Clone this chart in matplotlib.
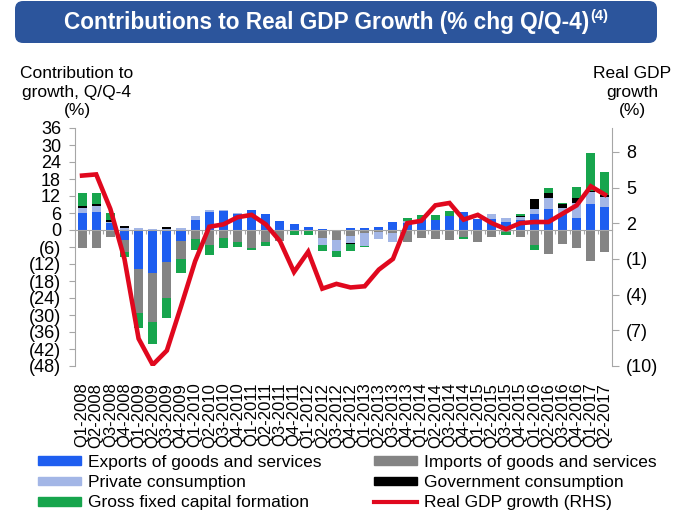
import matplotlib
matplotlib.use("Agg")
import matplotlib.pyplot as plt
import numpy as np
from matplotlib.patches import FancyBboxPatch, Patch
from matplotlib.lines import Line2D
from matplotlib.ticker import FuncFormatter

plt.rcParams['font.family'] = ['Liberation Sans', 'DejaVu Sans']

# ---------------- data ----------------
quarters = ["Q1-2008", "Q2-2008", "Q3-2008", "Q4-2008",
            "Q1-2009", "Q2-2009", "Q3-2009", "Q4-2009",
            "Q1-2010", "Q2-2010", "Q3-2010", "Q4-2010",
            "Q1-2011", "Q2-2011", "Q3-2011", "Q4-2011",
            "Q1-2012", "Q2-2012", "Q3-2012", "Q4-2012",
            "Q1-2013", "Q2-2013", "Q3-2013", "Q4-2013",
            "Q1-2014", "Q2-2014", "Q3-2014", "Q4-2014",
            "Q1-2015", "Q2-2015", "Q3-2015", "Q4-2015",
            "Q1-2016", "Q2-2016", "Q3-2016", "Q4-2016",
            "Q1-2017", "Q2-2017"]

exports = [5.9, 6.5, 2.4, -3.5, -13.8, -15.3, -11.4, -3.8,
           3.5, 6.5, 6.8, 5.5, 6.9, 5.8, 3.1, 2.0,
           1.2, 0.3, 0.0, 0.6, 0.7, 1.2, 2.9, 2.5,
           3.9, 3.6, 5.1, 6.3, 4.0, 3.8, 3.0, 3.6,
           5.5, 7.3, 5.5, 4.4, 9.3, 8.2]
imports = [-6.2, -6.3, -2.6, -4.3, -15.4, -17.0, -12.7, -6.5,
           -3.2, -5.3, -2.7, -4.4, -6.2, -4.1, -3.8, -0.4,
           -0.4, -2.9, -3.5, -2.1, -1.2, -0.6, -1.0, -4.3,
           -2.9, -3.2, -3.6, -2.4, -4.1, -2.6, -0.6, -2.6,
           -5.3, -8.5, -4.9, -6.3, -10.8, -7.9]
private_cons = [1.8, 2.0, 0.6, 0.6, 0.7, 0.2, 0.3, 0.8,
                1.4, 0.6, 0.3, 0.4, 0.0, 0.0, 0.0, 0.0,
                0.0, -2.4, -3.9, -2.4, -4.5, -2.6, -3.3, 0.8,
                0.0, 0.0, 0.0, 0.0, 0.0, 1.7, 1.3, 1.0,
                1.8, 3.9, 2.2, 5.0, 4.1, 3.4]
gov_cons = [0.8, 0.8, 0.6, 0.9, 0.0, 0.3, 0.6, 0.0,
            0.0, 0.0, 0.0, 0.0, 0.0, 0.0, 0.0, 0.0,
            0.0, 0.0, 0.0, -0.6, 0.0, 0.0, 0.0, 0.0,
            0.0, 0.0, 0.0, 0.0, 0.0, 0.0, 0.0, 0.5,
            3.8, 1.8, 1.5, 1.8, 0.4, 0.8]
gfcf = [4.7, 3.6, 2.4, -1.9, -5.5, -7.9, -7.1, -4.8,
        -3.9, -3.5, -3.8, -1.5, -0.8, -1.4, 0.0, -1.5,
        -1.2, -2.1, -2.2, -2.2, -0.4, 0.0, 0.0, 1.0,
        1.4, 1.6, 1.6, -0.6, 0.0, 0.0, -1.1, 0.6,
        -1.8, 1.8, 0.4, 4.1, 13.5, 8.1]
gdp_growth = [6.0, 6.1, 3.2, -1.0, -7.7, -9.9, -8.7, -5.0,
              -1.2, 1.7, 1.9, 2.5, 2.7, 1.9, 0.5, -2.1,
              -0.4, -3.5, -3.1, -3.4, -3.3, -1.9, -1.0, 2.0,
              2.2, 3.5, 3.7, 2.3, 2.7, 2.0, 1.5, 2.0,
              2.1, 2.1, 2.8, 3.5, 5.1, 4.4]

left_ticks = [-48, -42, -36, -30, -24, -18, -12, -6, 0, 6, 12, 18, 24, 30, 36]
right_ticks = [-10, -7, -4, -1, 2, 5, 8]

series = [
    ("Exports of goods and services", exports, "#1E5EF0"),
    ("Imports of goods and services", imports, "#848484"),
    ("Private consumption", private_cons, "#A3B6E6"),
    ("Government consumption", gov_cons, "#000000"),
    ("Gross fixed capital formation", gfcf, "#17A54D"),
]
line_color = "#E0081E"
grey = "#A6A6A6"

# ---------------- figure ----------------
W, H = 673, 514
fig = plt.figure(figsize=(W / 100, H / 100), dpi=100)

# title banner
banner = FancyBboxPatch((15 / W, 1 - 43 / H), (657 - 15) / W, 42 / H,
                        boxstyle="round,pad=0,rounding_size=0.012",
                        mutation_aspect=W / H,
                        transform=fig.transFigure, facecolor="#2C559C",
                        edgecolor="none")
fig.patches.append(banner)
t = fig.text(327 / W, 1 - 22 / H, "Contributions to Real GDP Growth (% chg Q/Q-4)",
             ha="center", va="center", color="white", fontsize=16.3,
             fontweight="bold")
fig.canvas.draw()
bb = t.get_window_extent()
fig.text(bb.x1 / W + 1 / W, 1 - 16 / H, "(4)", ha="left", va="center",
         color="white", fontsize=10.5, fontweight="bold")

ax = fig.add_axes([75 / W, 1 - 366 / H, (612 - 75) / W, (366 - 128) / H])
x = np.arange(len(quarters))

pos_base = np.zeros(len(x))
neg_base = np.zeros(len(x))
for name, vals, col in series:
    v = np.array(vals, dtype=float)
    bottom = np.where(v >= 0, pos_base, neg_base)
    ax.bar(x, v, bottom=bottom, width=0.64, color=col, linewidth=0, zorder=2)
    pos_base = pos_base + np.where(v > 0, v, 0)
    neg_base = neg_base + np.where(v < 0, v, 0)

ax.set_xlim(-0.5, len(x) - 0.5)
ax.set_ylim(left_ticks[0], left_ticks[-1])
ax.set_yticks(left_ticks)


def paren(v, pos=None):
    v = int(round(v))
    return f"({abs(v)})" if v < 0 else f"{v}"


ax.yaxis.set_major_formatter(FuncFormatter(paren))
for s in ["top", "right"]:
    ax.spines[s].set_visible(False)
ax.spines["left"].set_color(grey)
ax.spines["bottom"].set_position(("data", 0))
ax.spines["bottom"].set_color(grey)
ax.spines["bottom"].set_zorder(3)
ax.set_xticks(x[:-1] + 0.5)
ax.tick_params(axis="x", direction="out", length=3, color=grey,
               labelbottom=False)
ax.tick_params(axis="y", direction="out", length=4, color=grey,
               labelsize=13, pad=6)

sec = ax.secondary_xaxis(0.0)
sec.set_xticks(x)
sec.set_xticklabels(quarters, rotation=90, fontsize=12)
sec.tick_params(length=0, pad=12)
sec.spines["bottom"].set_visible(False)

ax2 = ax.twinx()
ax2.plot(x, gdp_growth, color=line_color, linewidth=3.3, solid_joinstyle="miter",
         zorder=4)
ax2.set_ylim(-10, 10)
ax2.set_yticks(right_ticks)
ax2.yaxis.set_major_formatter(FuncFormatter(paren))
for s in ["top", "left", "bottom"]:
    ax2.spines[s].set_visible(False)
ax2.spines["right"].set_color(grey)
ax2.tick_params(axis="y", direction="out", length=5, color=grey,
                labelsize=13, pad=5)

# axis titles
fig.text(77 / W, 1 - 92 / H, "Contribution to\ngrowth, Q/Q-4\n(%)",
         ha="center", va="center", fontsize=12.5, linespacing=1.3)
fig.text(632 / W, 1 - 92 / H, "Real GDP\ngrowth\n(%)",
         ha="center", va="center", fontsize=12.5, linespacing=1.3)

# legend
handles = [Patch(color=series[0][2]), Patch(color=series[2][2]),
           Patch(color=series[4][2]), Patch(color=series[1][2]),
           Patch(color=series[3][2]),
           Line2D([], [], color=line_color, linewidth=3)]
labels = [series[0][0], series[2][0], series[4][0], series[1][0],
          series[3][0], "Real GDP growth (RHS)"]
fig.legend(handles, labels, ncol=2, loc="upper left",
           bbox_to_anchor=(38 / W, 1 - 455 / H), frameon=False,
           fontsize=12.5, handlelength=2.5, handleheight=0.4,
           handletextpad=0.4, columnspacing=3.0, labelspacing=0.3,
           borderpad=0, borderaxespad=0)

fig.savefig("out.png", dpi=100)
